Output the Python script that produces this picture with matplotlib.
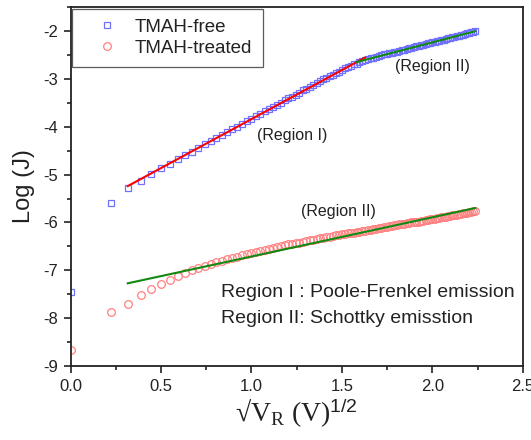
import numpy as np
import matplotlib.pyplot as plt

plt.rcParams['font.family'] = ['Liberation Sans', 'DejaVu Sans']
plt.rcParams['axes.unicode_minus'] = False
plt.rcParams['mathtext.fontset'] = 'custom'
plt.rcParams['mathtext.rm'] = 'Liberation Serif'
plt.rcParams['mathtext.it'] = 'Liberation Serif:italic'
plt.rcParams['mathtext.sf'] = 'Liberation Sans'

# reverse bias sweep, 0 to 5 V in 0.05 V steps
v_r = np.linspace(0, 5, 101)
sqrt_v = np.sqrt(v_r)

log_j_free = [
    -7.45, -5.60, -5.27, -5.13, -4.98, -4.87, -4.77, -4.68, -4.59, -4.52,
    -4.44, -4.37, -4.30, -4.24, -4.17, -4.11, -4.05, -4.00, -3.94, -3.89,
    -3.83, -3.78, -3.73, -3.68, -3.64, -3.59, -3.54, -3.50, -3.45, -3.41,
    -3.37, -3.33, -3.29, -3.24, -3.21, -3.17, -3.13, -3.09, -3.05, -3.01,
    -2.98, -2.95, -2.91, -2.88, -2.85, -2.81, -2.78, -2.76, -2.73, -2.70,
    -2.68, -2.65, -2.63, -2.61, -2.59, -2.57, -2.56, -2.54, -2.52, -2.51,
    -2.49, -2.48, -2.47, -2.45, -2.44, -2.43, -2.41, -2.40, -2.39, -2.37,
    -2.36, -2.35, -2.34, -2.32, -2.31, -2.30, -2.29, -2.27, -2.26, -2.25,
    -2.24, -2.23, -2.21, -2.20, -2.19, -2.18, -2.17, -2.15, -2.14, -2.13,
    -2.12, -2.11, -2.10, -2.09, -2.08, -2.06, -2.05, -2.04, -2.03, -2.02,
    -2.01,
]

log_j_treated = [
    -8.67, -7.86, -7.71, -7.52, -7.38, -7.28, -7.20, -7.11, -7.05, -6.99,
    -6.95, -6.91, -6.87, -6.83, -6.80, -6.77, -6.74, -6.72, -6.69, -6.66,
    -6.64, -6.62, -6.60, -6.58, -6.56, -6.54, -6.52, -6.50, -6.48, -6.46,
    -6.45, -6.43, -6.42, -6.40, -6.39, -6.37, -6.36, -6.35, -6.33, -6.32,
    -6.31, -6.30, -6.28, -6.27, -6.26, -6.25, -6.24, -6.23, -6.22, -6.21,
    -6.20, -6.19, -6.18, -6.17, -6.16, -6.15, -6.14, -6.13, -6.12, -6.11,
    -6.10, -6.09, -6.08, -6.07, -6.06, -6.05, -6.04, -6.04, -6.03, -6.02,
    -6.01, -6.00, -5.99, -5.98, -5.98, -5.97, -5.96, -5.95, -5.94, -5.93,
    -5.93, -5.92, -5.91, -5.90, -5.89, -5.89, -5.88, -5.87, -5.86, -5.85,
    -5.85, -5.84, -5.83, -5.82, -5.81, -5.81, -5.80, -5.79, -5.78, -5.77,
    -5.77,
]

# fitting windows in sqrt(V)
pf_range = (0.31, 1.63)
sch_free_range = (1.57, 2.24)
sch_treated_range = (0.31, 2.24)

y_free = np.array(log_j_free)
y_treated = np.array(log_j_treated)


def linear_fit(x, y, lo, hi):
    m = (x >= lo) & (x <= hi)
    k, b = np.polyfit(x[m], y[m], 1)
    xs = np.array([x[m].min(), x[m].max()])
    return xs, k * xs + b


fig = plt.figure(figsize=(5.31, 4.40), dpi=100)
ax = fig.add_axes([0.1328, 0.168, 0.852, 0.816])

ax.plot(sqrt_v, y_free, ls='none', marker='s', ms=5, mfc='none',
        mec='#7070ff', mew=0.9, label='TMAH-free')
ax.plot(sqrt_v, y_treated, ls='none', marker='o', ms=5.5, mfc='none',
        mec='#ff8080', mew=0.9, label='TMAH-treated')

xs, ys = linear_fit(sqrt_v, y_free, *pf_range)
ax.plot(xs, ys, color='#ff0000', lw=1.5)
xs, ys = linear_fit(sqrt_v, y_free, *sch_free_range)
ax.plot(xs, ys, color='#108a10', lw=1.5)
xs, ys = linear_fit(sqrt_v, y_treated, *sch_treated_range)
ax.plot(xs, ys, color='#108a10', lw=1.5)

txt = '#222222'
ax.text(2.0, -2.75, '(Region II)', fontsize=11.5, ha='center', va='center',
        color=txt)
ax.text(1.225, -4.19, '(Region I)', fontsize=11.5, ha='center', va='center',
        color=txt)
ax.text(1.48, -5.78, '(Region II)', fontsize=11.5, ha='center', va='center',
        color=txt)
ax.text(0.83, -7.47, 'Region I : Poole-Frenkel emission', fontsize=14,
        va='center', color=txt)
ax.text(0.83, -8.0, 'Region II: Schottky emisstion', fontsize=14,
        va='center', color=txt)

ax.set_xlim(0, 2.5)
ax.set_ylim(-9, -1.5)
ax.set_xticks(np.arange(0, 2.51, 0.5))
ax.set_xticks(np.arange(0, 2.51, 0.25), minor=True)
ax.set_yticks(np.arange(-9, -1.9, 1))
ax.set_yticks(np.arange(-9, -1.4, 0.5), minor=True)
ax.set_xticklabels([f'{t:.1f}' for t in np.arange(0, 2.51, 0.5)])
ax.tick_params(which='both', direction='out', top=False, right=False,
               labelsize=12, width=1.2, colors='#222222', labelcolor=txt)
ax.tick_params(which='major', length=5, pad=4)
ax.tick_params(which='minor', length=3)
for s in ax.spines.values():
    s.set_linewidth(1.3)
    s.set_color('#222222')

ax.set_ylabel('Log (J)', fontsize=17, labelpad=6, color=txt)
ax.set_xlabel('√$\\mathrm{V_R}$ $\\mathrm{(V)}^{\\mathsf{1/2}}$', fontsize=20,
              family='Liberation Serif', labelpad=2, color=txt)

leg = ax.legend(loc='upper left', fontsize=13.5, frameon=True, fancybox=False,
                edgecolor='#333333', borderaxespad=0.08, handletextpad=0.2,
                borderpad=0.55, labelspacing=0.2, handlelength=2.6)
leg.get_frame().set_linewidth(0.9)
for t in leg.get_texts():
    t.set_color(txt)

fig.savefig('out.png', dpi=100)
